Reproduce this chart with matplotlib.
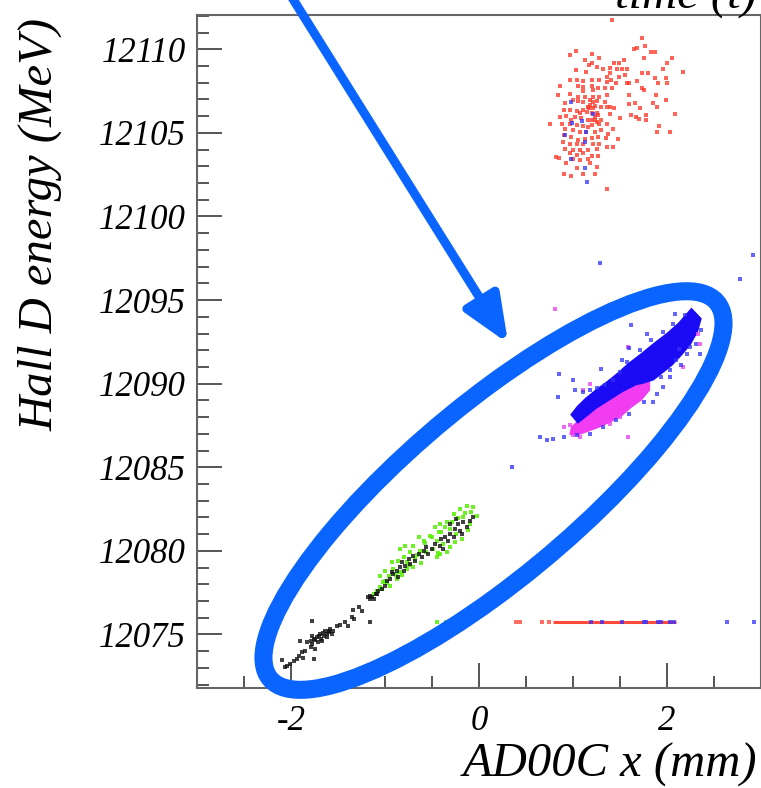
import matplotlib
matplotlib.use('Agg')
import numpy as np
import matplotlib.pyplot as plt
from matplotlib.patches import Circle
from matplotlib.transforms import Affine2D
from matplotlib.ticker import MultipleLocator, FormatStrFormatter

# --- data (x in mm, y in MeV) ---
red_x = [1.73, 1.77, 1.68, 1.65, 1.83, 1.87, 1.03, 1.20, 0.97, 1.28, 1.13, 1.76, 2.05, 1.54, 1.49,
         1.44, 1.20, 1.17, 1.25, 2.00, 1.32, 1.39, 1.47, 1.52, 1.57, 1.96, 1.03, 1.14, 1.39, 1.80,
         1.73, 2.17, 1.55, 1.49, 1.40, 1.36, 0.97, 1.04, 1.11, 1.20, 1.28, 1.36, 1.46, 1.57, 1.60,
         1.68, 1.87, 1.99, 2.00, 1.90, 0.86, 1.05, 1.11, 1.20, 1.27, 1.34, 1.41, 1.11, 1.21, 1.73,
         1.76, 0.97, 0.84, 1.05, 1.13, 1.21, 1.28, 1.36, 1.60, 1.88, 1.99, 1.00, 1.05, 1.11, 1.18,
         1.25, 1.34, 0.91, 1.16, 1.23, 1.30, 1.39, 1.44, 1.60, 1.66, 1.71, 1.85, 1.89, 0.90, 0.97,
         1.04, 1.11, 1.17, 1.20, 1.25, 1.39, 1.62, 1.67, 1.78, 2.08, 0.86, 0.93, 1.02, 1.09, 1.16,
         1.23, 1.30, 1.50, 1.70, 1.78, 0.75, 0.88, 0.97, 1.04, 1.11, 1.20, 1.25, 1.36, 1.43, 1.92,
         2.03, 1.89, 0.91, 1.00, 1.07, 1.14, 1.23, 1.30, 1.37, 0.90, 0.98, 1.05, 1.13, 1.20, 1.27,
         1.35, 1.48, 0.89, 0.97, 1.04, 1.11, 1.21, 1.28, 1.36, 1.43, 0.91, 1.00, 1.07, 1.16, 1.25,
         0.97, 1.04, 1.11, 1.20, 1.27, 0.82, 0.85, 1.00, 1.07, 1.16, 0.93, 1.18, 1.25, 1.04, 1.11,
         0.90, 0.98, 1.23, 1.36, 1.41, 1.18, 1.21, 1.15, 1.27, 1.23, 1.20, 1.28, 1.16, 1.07, 0.98,
         1.21, 1.36]
red_y = [12110.65, 12110.19, 12110.09, 12109.99, 12109.81, 12109.81, 12109.89, 12109.73, 12109.63,
         12109.45, 12109.35, 12109.45, 12109.45, 12109.35, 12109.20, 12109.16, 12109.16, 12109.06,
         12108.96, 12109.16, 12108.80, 12108.86, 12108.80, 12108.80, 12108.80, 12108.80, 12108.76,
         12108.66, 12108.56, 12108.56, 12108.56, 12108.62, 12108.46, 12108.32, 12108.16, 12108.32,
         12108.16, 12108.16, 12108.10, 12108.16, 12108.16, 12108.06, 12107.96, 12107.96, 12108.00,
         12108.08, 12108.26, 12108.26, 12108.00, 12107.96, 12107.80, 12107.82, 12107.76, 12107.82,
         12107.66, 12107.66, 12107.66, 12107.52, 12107.56, 12107.66, 12107.56, 12107.32, 12107.26,
         12107.16, 12107.12, 12107.16, 12107.12, 12107.26, 12107.26, 12107.26, 12106.96, 12106.96,
         12106.90, 12106.86, 12106.96, 12106.92, 12106.86, 12106.76, 12106.56, 12106.60, 12106.52,
         12106.52, 12106.46, 12106.72, 12106.76, 12106.46, 12106.76, 12106.52, 12106.36, 12106.36,
         12106.32, 12106.36, 12106.46, 12106.16, 12106.20, 12106.10, 12106.06, 12105.96, 12106.06,
         12106.12, 12105.96, 12106.00, 12105.96, 12105.86, 12105.76, 12105.76, 12105.80, 12105.86,
         12105.84, 12105.76, 12105.52, 12105.56, 12105.56, 12105.46, 12105.40, 12105.46, 12105.66,
         12105.56, 12105.26, 12105.40, 12105.06, 12105.06, 12105.26, 12105.16, 12105.06, 12105.06,
         12105.06, 12105.16, 12104.96, 12104.86, 12104.76, 12104.60, 12104.66, 12104.72, 12104.76,
         12104.72, 12104.66, 12104.46, 12104.36, 12104.32, 12104.32, 12104.36, 12104.36, 12104.16,
         12104.16, 12104.06, 12104.00, 12103.96, 12103.96, 12104.06, 12103.77, 12103.67, 12103.77,
         12103.61, 12103.61, 12103.57, 12103.47, 12103.41, 12103.37, 12103.41, 12103.17, 12103.17,
         12102.97, 12102.87, 12102.57, 12102.57, 12102.43, 12102.53, 12101.67, 12111.75, 12106.66,
         12106.46, 12106.26, 12106.06, 12105.96, 12105.76, 12105.56, 12105.36, 12106.16, 12105.76,
         12106.86, 12106.56]

# red events along one energy value
red_line_x = [0.79, 2.10]
red_line_y = 12075.77
red_line_dots_x = [0.39, 0.44, 0.67, 0.74]

# blue events: stray dots
blue_x = [0.98, 1.21, 1.10, 0.99, 1.14, 0.92, 1.13, 0.98, 1.13, 1.15,
          1.29, 2.91, 2.78, 0.35, 0.65, 2.64, 2.93,
          1.19, 1.31, 1.52, 1.75, 1.78, 1.90, 1.94, 2.03, 2.07,
          1.62, 1.79, 2.09, 1.60, 1.52, 1.30, 1.00, 0.85, 0.84, 1.02, 1.11, 1.18, 1.25, 1.34,
          1.43, 1.50, 1.57, 1.71, 1.83, 1.96, 2.06, 2.19, 2.36, 2.31, 2.21, 2.15, 2.03, 1.96,
          1.85, 1.60, 1.46, 1.32, 1.18, 1.04, 0.90, 0.79, 0.72, 2.13, 2.10, 2.35, 1.89, 1.75,
          2.24, 1.94, 2.03]
blue_y = [12106.86, 12106.12, 12105.72, 12105.60, 12105.06, 12104.90, 12104.46, 12103.41,
          12102.89, 12102.05,
          12097.2, 12097.7, 12096.25, 12085.0, 12086.8, 12075.77, 12075.77,
          12075.77, 12075.77, 12075.77, 12075.77, 12075.77, 12075.77, 12075.77, 12075.77, 12075.77,
          12093.49, 12092.99, 12094.19, 12092.16, 12091.40, 12090.90, 12090.24, 12090.60,
          12089.20, 12089.60, 12089.50, 12089.60, 12089.76, 12089.90, 12090.20, 12090.70,
          12091.30, 12092.00, 12092.59, 12093.09, 12093.59, 12094.09, 12093.19, 12092.40,
          12091.80, 12091.10, 12090.40, 12089.80, 12088.90, 12088.20, 12087.80, 12087.40,
          12087.01, 12086.91, 12086.81, 12086.71, 12086.61, 12092.10, 12091.40, 12091.80,
          12089.40, 12088.90, 12092.20, 12090.40, 12090.80]

# dense blue band (outline)
blue_core_x = [2.26, 2.12, 2.00, 1.86, 1.73, 1.59, 1.47, 1.36, 1.24, 1.13, 1.04, 0.97,
               1.05, 1.14, 1.25, 1.39, 1.53, 1.67, 1.75, 1.86, 1.95, 2.06, 2.16, 2.25, 2.33, 2.37]
blue_core_y = [12094.55, 12093.65, 12093.05, 12092.45, 12091.85, 12091.25, 12090.65, 12090.15,
               12089.65, 12089.15, 12088.65, 12088.15, 12087.60, 12088.00, 12088.50, 12089.00,
               12089.50, 12089.90, 12090.00, 12090.20, 12090.60, 12091.10, 12091.70, 12092.30,
               12093.10, 12093.90]

# dense magenta band (outline) and stray magenta dots
mag_core_x = [0.98, 1.07, 1.18, 1.30, 1.43, 1.57, 1.71, 1.82,
              1.82, 1.73, 1.62, 1.52, 1.39, 1.27, 1.15, 1.05, 0.96]
mag_core_y = [12087.44, 12087.90, 12088.30, 12088.80, 12089.30, 12089.76, 12090.14, 12090.30,
              12089.60, 12089.00, 12088.55, 12088.05, 12087.65, 12087.35, 12087.10, 12086.90,
              12086.95]
mag_x = [0.81, 1.59, 2.33, 2.35, 2.17, 1.11, 0.97, 0.90, 1.00, 1.07, 1.59, 1.50, 1.39, 1.18]
mag_y = [12094.49, 12092.20, 12092.99, 12092.40, 12091.00, 12089.60, 12087.50, 12087.40,
         12086.91, 12086.81, 12086.81, 12088.00, 12087.60, 12090.00]

# green events
green_x = [-0.13, -0.06, -0.02, -0.20, -0.27, -0.17, -0.10, -0.34, -0.41, -0.47, -0.40, -0.31,
           -0.24, -0.18, -0.52, -0.45, -0.38, -0.31, -0.59, -0.64, -0.70, -0.63, -0.56, -0.49,
           -0.41, -0.73, -0.80, -0.77, -0.68, -0.86, -0.93, -0.91, -0.84, -0.77, -0.70, -0.96,
           -0.87, -1.02, -1.05, -0.95, -1.09, -1.00, -0.84, -0.79, -0.34, -0.45,
           -1.05, -1.00, -1.03, -1.09, -1.12, -0.45, -0.35,
           -0.08, -0.15, -0.22, -0.29, -0.36, -0.43, -0.50, -0.57, -0.66, -0.75, -0.88, -0.98,
           -0.12, -0.26, -0.44, -0.62, -0.82]
green_y = [12082.71, 12082.61, 12082.11, 12082.51, 12082.21, 12082.01, 12081.61, 12081.71,
           12081.61, 12081.41, 12081.11, 12081.31, 12081.01, 12080.72, 12080.91, 12080.62,
           12080.42, 12080.22, 12080.62, 12080.81, 12080.32, 12080.02, 12079.92, 12080.12,
           12079.82, 12079.92, 12079.62, 12079.32, 12079.52, 12079.42, 12079.32, 12078.92,
           12078.72, 12078.92, 12079.02, 12078.52, 12078.32, 12078.12, 12077.82, 12077.92,
           12077.62, 12078.82, 12080.12, 12080.32, 12079.92, 12079.62,
           12078.52, 12078.22, 12077.72, 12077.62, 12077.42, 12075.77, 12075.77,
           12082.35, 12082.25, 12081.95, 12081.75, 12081.45, 12081.15, 12080.85, 12080.45,
           12079.75, 12079.15, 12078.55, 12078.05,
           12081.25, 12080.55, 12079.85, 12079.25, 12078.55]

# black events
black_x = [-0.10, -0.17, -0.22, -0.13, -0.20, -0.26, -0.31, -0.36, -0.33, -0.40, -0.41, -0.47,
           -0.50, -0.56, -0.59, -0.64, -0.70, -0.61, -0.68, -0.75, -0.73, -0.79, -0.84, -0.80,
           -0.87, -0.91, -0.86, -0.95, -0.98, -1.00, -1.03, -1.07, -1.10, -1.14, -1.16, -0.06,
           -0.18, -0.27, -0.38, -0.54, -0.82, -0.93, -0.31, -0.24,
           -1.16, -1.12, -1.18, -1.09, -1.28, -1.34, -1.25, -1.33, -1.35, -1.43, -1.39, -1.16,
           -1.48, -1.58, -1.60, -1.64, -1.56, -1.65, -1.69, -1.72, -1.76, -1.79, -1.83, -1.78,
           -1.71, -1.79, -1.74, -1.85, -1.88, -1.92, -1.87, -1.94, -1.97, -2.01, -2.04, -1.78,
           -1.90, -1.76, -2.10, -2.06, -1.62, -1.67, -1.78, -1.55, -1.51, -1.62, -1.66, -1.70,
           -1.74, -1.60, -1.68]
black_y = [12081.81, 12081.71, 12081.61, 12081.41, 12081.21, 12081.31, 12081.01, 12080.81,
           12080.62, 12080.72, 12080.32, 12080.42, 12080.12, 12080.22, 12080.02, 12079.82,
           12079.72, 12079.62, 12079.42, 12079.52, 12079.22, 12079.12, 12079.02, 12078.82,
           12078.82, 12078.62, 12078.46, 12078.32, 12078.22, 12077.92, 12077.72, 12077.62,
           12077.42, 12077.26, 12077.12, 12082.01, 12081.01, 12080.81, 12080.12, 12079.82,
           12079.32, 12078.72, 12081.61, 12081.91,
           12077.32, 12077.12, 12077.22, 12077.42, 12076.66, 12076.46, 12076.42, 12075.93,
           12076.03, 12075.73, 12075.53, 12075.73, 12075.59, 12075.33, 12075.13, 12075.23,
           12075.03, 12074.93, 12075.03, 12074.83, 12074.73, 12074.59, 12074.53, 12074.43,
           12074.53, 12074.23, 12074.13, 12074.03, 12073.93, 12073.73, 12073.59, 12073.53,
           12073.43, 12073.23, 12073.13, 12074.93, 12074.63, 12073.53, 12073.47, 12073.03,
           12074.83, 12074.63, 12075.79, 12075.23, 12075.53, 12075.00, 12075.10, 12074.90,
           12074.70, 12075.20, 12074.75]

# highlight ellipse: centre, half-extent in x, half-extent in y, x-y phase
ring_cx, ring_cy = 0.154, 12083.61
ring_ax, ring_by, ring_phase = 2.447, 11.92, 0.575

# arrow start/tip
arrow_from = (-2.04, 12113.55)
arrow_to = (0.31, 12092.41)

RING_BLUE = '#0a64ff'

fig = plt.figure(figsize=(7.61, 7.88), dpi=100)
ax = fig.add_axes([197 / 761, 1 - 688 / 788, 564 / 761, 673 / 788])

# clusters
ax.fill(mag_core_x, mag_core_y, color='#f23cf2', lw=0, zorder=2)
ax.fill(blue_core_x, blue_core_y, color='#1a0af5', lw=0, zorder=2)
ax.scatter(red_x, red_y, s=6, marker='s', color='#ff3020', alpha=0.75, lw=0, zorder=3)
ax.hlines(red_line_y, red_line_x[0], red_line_x[1], color='#ff4a3a', lw=2.2, zorder=3)
ax.scatter(red_line_dots_x, [red_line_y] * len(red_line_dots_x), s=6, marker='s',
           color='#ff3020', alpha=0.7, lw=0, zorder=3)
ax.scatter(green_x, green_y, s=7, marker='s', color='#55ee00', alpha=0.85, lw=0, zorder=3)
ax.scatter(black_x, black_y, s=9, marker='s', color='#111111', alpha=0.8, lw=0, zorder=4)
ax.scatter(mag_x, mag_y, s=7, marker='s', color='#ee44ee', alpha=0.8, lw=0, zorder=4)
ax.scatter(blue_x, blue_y, s=7, marker='s', color='#3030ff', alpha=0.75, lw=0, zorder=4)

# highlight ring: unit circle mapped onto the tilted ellipse
ring_tf = Affine2D(np.array([[ring_ax, 0.0, ring_cx],
                             [ring_by * np.cos(ring_phase), ring_by * np.sin(ring_phase), ring_cy],
                             [0.0, 0.0, 1.0]]))
ring = Circle((0, 0), 1.0, fill=False, ec=RING_BLUE, lw=13,
              transform=ring_tf + ax.transData, clip_on=False, zorder=5)
ax.add_patch(ring)

ax.annotate('', xy=arrow_to, xytext=arrow_from, xycoords='data', textcoords='data',
            annotation_clip=False,
            arrowprops=dict(arrowstyle='-|>,head_length=0.95,head_width=0.4',
                            mutation_scale=30, lw=6.5, color=RING_BLUE,
                            shrinkA=0, shrinkB=0))

ax.set_xlim(-3, 3)
ax.set_ylim(12071.8, 12112.05)
ax.xaxis.set_major_locator(MultipleLocator(2))
ax.xaxis.set_minor_locator(MultipleLocator(0.5))
ax.yaxis.set_major_locator(MultipleLocator(5))
ax.yaxis.set_minor_locator(MultipleLocator(1))
ax.xaxis.set_major_formatter(FormatStrFormatter('%d'))
ax.yaxis.set_major_formatter(FormatStrFormatter('%d'))

serif = dict(family='Liberation Serif', style='italic')
ax.tick_params(which='both', direction='in', color='#555555', width=1.4,
               top=False, right=False)
ax.tick_params(which='major', length=18)
ax.tick_params(which='minor', length=8.5)
ax.tick_params(axis='y', pad=8)
ax.tick_params(axis='x', pad=12)
for lab in ax.get_xticklabels() + ax.get_yticklabels():
    lab.set_fontfamily('Liberation Serif')
    lab.set_fontstyle('italic')
    lab.set_fontsize(25)
for sp in ax.spines.values():
    sp.set_color('#666666')
    sp.set_linewidth(1.5)

fig.text(40 / 761, 1 - 18 / 788, 'Hall D energy (MeV)', rotation=90,
         ha='center', va='top', fontsize=35, **serif)
fig.text(757 / 761, 1 - 765 / 788, 'AD00C x (mm)', ha='right', va='center',
         fontsize=35, **serif)
fig.text(757 / 761, 1 - 9 / 788, 'time (t)', ha='right', va='baseline',
         fontsize=35, **serif)

fig.savefig('out.png', dpi=100)
